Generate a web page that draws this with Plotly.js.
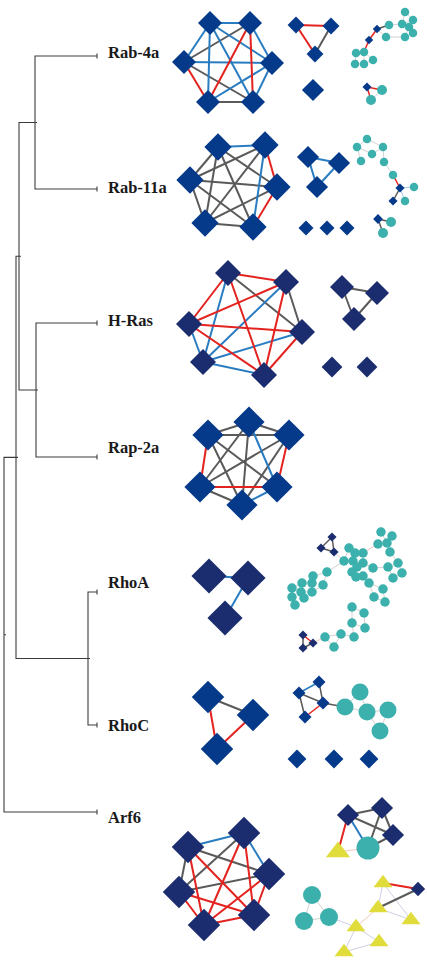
<!DOCTYPE html>
<html><head><meta charset="utf-8">
<script src="https://cdn.plot.ly/plotly-3.0.1.min.js"></script>
<style>html,body{margin:0;padding:0;background:#fff}#chart{width:427px;height:962px}</style>
</head><body><div id="chart"></div>
<script>
// ---------- Dendrogram data ----------
const leafNames = ['Rab-4a','Rab-11a','H-Ras','Rap-2a','RhoA','RhoC','Arf6'];
const leafY = [56,189,323,457,592,725,812];
const labelY = [52,187,320,447,582,725,817];
const mergePairs = [[0,1],[2,3],[7,8],[4,5],[9,10],[11,6]];
const mergeHeights = [35,36,19,88,16,4];

// ---------- Network data (node positions, node kinds, edges) ----------
const rab4aMainX = [210,250,184,272,208,253];
const rab4aMainY = [23,23,62,63,102,102];
const rab4aMainEdges = [[0,1,'b'],[0,2,'b'],[0,4,'b'],[0,5,'b'],[0,3,'b'],[1,2,'g'],[1,4,'r'],[1,5,'r'],[1,3,'b'],[2,3,'b'],[2,4,'r'],[2,5,'g'],[3,4,'b'],[3,5,'b'],[4,5,'g']];

const rab4aTriX = [296,331,315];
const rab4aTriY = [25,26,54];
const rab4aTriEdges = [[0,1,'r'],[0,2,'r'],[1,2,'g']];
const rab4aSingleX = [313];
const rab4aSingleY = [90];

const rab4aTealX = [377,369,405,413,402,409,413,405,389,386,356,364,373,355,364];
const rab4aTealY = [29,40,12,20,24,27,33,37,25,37,53,52,60,64,64];
const rab4aTealKind = 'ddccccccccccccc';
const rab4aTealEdges = [[0,1,'rt'],[1,11,'rt'],[0,8,'gt'],[0,9,'l'],[8,4,'l'],[4,2,'l'],[4,3,'l'],[4,5,'l'],[5,6,'l'],[5,7,'l'],[2,3,'l'],[10,11,'l'],[11,14,'l'],[10,13,'l'],[13,14,'l'],[11,12,'l'],[14,12,'l'],[9,7,'l']];
const rab4aTeal2X = [367,382,371];
const rab4aTeal2Y = [87,90,100];
const rab4aTeal2Kind = 'dcc';
const rab4aTeal2Edges = [[0,1,'rt'],[0,2,'rt'],[1,2,'l']];

const rab11aMainX = [218,265,190,277,205,253];
const rab11aMainY = [147,145,180,187,223,227];
const rab11aMainEdges = [[0,1,'b'],[1,3,'r'],[3,5,'r'],[1,5,'b'],[0,2,'g'],[0,3,'g'],[0,4,'g'],[0,5,'g'],[1,2,'g'],[1,4,'g'],[2,3,'g'],[2,4,'g'],[2,5,'g'],[3,4,'g'],[4,5,'g']];
const rab11aTriX = [308,339,317];
const rab11aTriY = [157,163,187];
const rab11aTriEdges = [[0,1,'b'],[0,2,'b'],[1,2,'b']];
const rab11aSingleX = [306,327,347];
const rab11aSingleY = [228,228,228];
const rab11aTealX = [367,357,372,383,361,384,393,414,405,400,393];
const rab11aTealY = [139,147,154,147,161,162,175,187,201,188,201];
const rab11aTealKind = 'cccccccccdd';
const rab11aTealEdges = [[0,1,'l'],[0,3,'l'],[1,2,'l'],[1,4,'l'],[2,3,'l'],[3,5,'l'],[5,6,'l'],[6,9,'rt'],[9,7,'lb'],[9,8,'lb'],[9,10,'gt']];
const rab11aTeal2X = [378,391,383];
const rab11aTeal2Y = [219,222,233];
const rab11aTeal2Kind = 'dcc';
const rab11aTeal2Edges = [[0,1,'gt'],[0,2,'gt']];

const hrasMainX = [228,286,189,302,203,264];
const hrasMainY = [273,282,324,332,362,375];
const hrasMainEdges = [[0,1,'r'],[0,2,'r'],[0,4,'b'],[0,5,'r'],[0,3,'g'],[1,3,'g'],[1,2,'r'],[1,4,'b'],[1,5,'r'],[2,3,'r'],[2,4,'b'],[2,5,'r'],[3,4,'b'],[3,5,'r'],[4,5,'b']];
const hrasTriX = [342,377,354];
const hrasTriY = [287,293,319];
const hrasTriEdges = [[0,1,'g'],[0,2,'g'],[1,2,'g']];
const hrasSingleX = [332,367];
const hrasSingleY = [367,367];

const rap2aMainX = [249,208,289,200,277,242];
const rap2aMainY = [422,435,435,487,487,505];
const rap2aMainEdges = [[1,3,'r'],[3,4,'r'],[2,4,'r'],[0,4,'b'],[5,4,'b'],[0,1,'g'],[0,2,'g'],[0,3,'g'],[0,5,'g'],[1,2,'g'],[1,4,'g'],[1,5,'g'],[2,3,'g'],[2,5,'g'],[3,5,'g']];

const rhoaTriX = [209,248,225];
const rhoaTriY = [576,578,618];
const rhoaTriEdges = [[0,1,'b'],[1,2,'b']];
const rhoaCloudX = [381,392,378,387,390,398,388,402,393,349,355,363,344,353,363,357,352,373,356,363,369,383,374,385,327,313,323,302,312,292,301,312,292,304,295,352,364,352,365,341,354,325,334,332,321,334,303,313,303];
const rhoaCloudY = [532,536,544,543,552,563,567,573,578,548,553,553,561,561,563,567,572,568,577,576,583,589,597,602,572,576,585,583,583,588,592,592,597,598,605,607,613,623,628,634,637,637,647,537,548,552,635,643,648];
const rhoaCloudKind = 'ccccccccccccccccccccccccccccccccccccccccccc' + 'dddddd';
const rhoaCloudEdges = [[0,3,'l'],[1,3,'l'],[2,3,'l'],[3,4,'l'],[4,5,'l'],[5,6,'l'],[5,7,'l'],[6,8,'l'],[7,8,'l'],[2,11,'lr'],[9,10,'l'],[10,11,'l'],[9,12,'l'],[10,13,'l'],[11,14,'l'],[12,13,'l'],[13,15,'l'],[14,15,'l'],[15,16,'l'],[14,17,'l'],[16,18,'l'],[18,19,'l'],[19,20,'l'],[17,6,'l'],[20,21,'l'],[20,22,'l'],[22,23,'l'],[21,23,'l'],[12,24,'l'],[24,25,'l'],[24,26,'l'],[25,28,'l'],[27,28,'l'],[27,29,'l'],[28,31,'l'],[29,30,'l'],[30,31,'l'],[29,32,'l'],[32,34,'l'],[30,33,'l'],[26,31,'l'],[35,36,'l'],[35,37,'l'],[36,38,'l'],[37,38,'l'],[37,40,'l'],[39,40,'l'],[39,41,'l'],[41,42,'l'],[39,42,'l'],[43,44,'gt'],[43,45,'gt'],[44,45,'gt'],[46,47,'rt'],[47,48,'gt'],[46,48,'gt'],[47,41,'lr'],[45,12,'l']];

const rhocTriX = [208,253,217];
const rhocTriY = [697,715,749];
const rhocTriEdges = [[0,1,'g'],[0,2,'r'],[1,2,'r']];
const rhocSmallX = [319,299,323,305,345,360,367,388,380];
const rhocSmallY = [682,693,703,717,707,692,712,710,731];
const rhocSmallKind = 'ddddccccc';
const rhocSmallEdges = [[0,1,'bt'],[0,2,'gt'],[1,2,'gt'],[1,3,'gt'],[2,3,'rt'],[2,4,'gt'],[4,5,'l'],[5,6,'l'],[4,6,'l'],[6,7,'l'],[7,8,'l'],[6,8,'l']];
const rhocSingleX = [297,334,369];
const rhocSingleY = [759,759,759];

const arf6MainX = [188,244,179,269,204,254];
const arf6MainY = [847,833,892,874,925,915];
const arf6MainEdges = [[0,1,'b'],[1,3,'b'],[0,2,'g'],[0,3,'g'],[1,2,'g'],[2,3,'g'],[0,4,'r'],[0,5,'r'],[1,4,'r'],[1,5,'r'],[2,4,'r'],[2,5,'r'],[3,4,'r'],[3,5,'r'],[4,5,'r']];
const arf6TopX = [348,382,393,338,368];
const arf6TopY = [815,808,835,852,848];
const arf6TopKind = 'dddtc';
const arf6TopEdges = [[0,1,'g'],[0,2,'g'],[1,2,'g'],[1,4,'g'],[2,4,'g'],[0,3,'r'],[0,4,'b'],[3,4,'lr']];
const arf6BottomX = [312,304,329,383,378,356,411,379,344,418];
const arf6BottomY = [895,921,917,883,908,927,920,942,952,889];
const arf6BottomKind = 'cccttttttd';
const arf6BottomEdges = [[0,1,'l'],[0,2,'l'],[1,2,'l'],[2,5,'lv'],[3,9,'r'],[4,9,'g'],[5,4,'lr'],[5,7,'lv'],[5,8,'lv'],[7,8,'lv'],[4,6,'lv'],[3,6,'lv'],[3,4,'lv']];

// ---------- Styles ----------
const BLUE_D = '#053a8b', NAVY_D = '#1b2d6e', TEAL = '#3bb0ac', YELLOW = '#e0dc3c';
const edgeStyle = {
  r:{c:'#e3231f',w:2}, b:{c:'#2a7cc1',w:2}, g:{c:'#5a5a5a',w:2},
  rt:{c:'#e3231f',w:1.5}, bt:{c:'#2a7cc1',w:1.5}, gt:{c:'#5a5a5a',w:1.5},
  l:{c:'#d2d2d2',w:1}, lr:{c:'#f3c6bc',w:1}, lv:{c:'#cfd0e6',w:1}, lb:{c:'#a9c9e6',w:1}
};
const symbolOf = {d:'diamond', c:'circle', t:'triangle-up'};

const networks = [
  {x:rab4aMainX, y:rab4aMainY, e:rab4aMainEdges, size:{d:18.5}, color:{d:BLUE_D}},
  {x:rab4aTriX, y:rab4aTriY, e:rab4aTriEdges, size:{d:13}, color:{d:BLUE_D}},
  {x:rab4aSingleX, y:rab4aSingleY, e:[], size:{d:17}, color:{d:BLUE_D}},
  {x:rab4aTealX, y:rab4aTealY, k:rab4aTealKind, e:rab4aTealEdges, size:{d:6.5,c:8.5}, color:{d:BLUE_D,c:TEAL}},
  {x:rab4aTeal2X, y:rab4aTeal2Y, k:rab4aTeal2Kind, e:rab4aTeal2Edges, size:{d:7,c:10}, color:{d:BLUE_D,c:TEAL}},
  {x:rab11aMainX, y:rab11aMainY, e:rab11aMainEdges, size:{d:21}, color:{d:BLUE_D}},
  {x:rab11aTriX, y:rab11aTriY, e:rab11aTriEdges, size:{d:17}, color:{d:BLUE_D}},
  {x:rab11aSingleX, y:rab11aSingleY, e:[], size:{d:11.5}, color:{d:BLUE_D}},
  {x:rab11aTealX, y:rab11aTealY, k:rab11aTealKind, e:rab11aTealEdges, size:{d:7,c:8.5}, color:{d:BLUE_D,c:TEAL}},
  {x:rab11aTeal2X, y:rab11aTeal2Y, k:rab11aTeal2Kind, e:rab11aTeal2Edges, size:{d:7.5,c:10}, color:{d:BLUE_D,c:TEAL}},
  {x:hrasMainX, y:hrasMainY, e:hrasMainEdges, size:{d:20}, color:{d:NAVY_D}},
  {x:hrasTriX, y:hrasTriY, e:hrasTriEdges, size:{d:18.5}, color:{d:NAVY_D}},
  {x:hrasSingleX, y:hrasSingleY, e:[], size:{d:16}, color:{d:NAVY_D}},
  {x:rap2aMainX, y:rap2aMainY, e:rap2aMainEdges, size:{d:24}, color:{d:BLUE_D}},
  {x:rhoaTriX, y:rhoaTriY, e:rhoaTriEdges, size:{d:27}, color:{d:NAVY_D}},
  {x:rhoaCloudX, y:rhoaCloudY, k:rhoaCloudKind, e:rhoaCloudEdges, size:{d:7,c:9.5}, color:{d:NAVY_D,c:TEAL}},
  {x:rhocTriX, y:rhocTriY, e:rhocTriEdges, size:{d:25}, color:{d:BLUE_D}},
  {x:rhocSmallX, y:rhocSmallY, k:rhocSmallKind, e:rhocSmallEdges, size:{d:10,c:17}, color:{d:BLUE_D,c:TEAL}},
  {x:rhocSingleX, y:rhocSingleY, e:[], size:{d:14.5}, color:{d:BLUE_D}},
  {x:arf6MainX, y:arf6MainY, e:arf6MainEdges, size:{d:25}, color:{d:NAVY_D}},
  {x:arf6TopX, y:arf6TopY, k:arf6TopKind, e:arf6TopEdges, size:{d:17,t:21,c:23}, color:{d:NAVY_D,t:YELLOW,c:TEAL}},
  {x:arf6BottomX, y:arf6BottomY, k:arf6BottomKind, e:arf6BottomEdges, size:{d:11,t:16.5,c:18}, color:{d:NAVY_D,t:YELLOW,c:TEAL}}
];

// ---------- Build traces ----------
const traces = [];
const LEAF_X = 97;

// dendrogram
const dX = [], dY = [];
const nX = [], nY = [];
leafY.forEach(y => { nX.push(LEAF_X); nY.push(y); });
mergePairs.forEach((p, k) => {
  const h = mergeHeights[k], a = p[0], b = p[1];
  dX.push(nX[a], h, h, nX[b], null);
  dY.push(nY[a], nY[a], nY[b], nY[b], null);
  dX.push(h, h + 2, null); dY.push((nY[a] + nY[b]) / 2, (nY[a] + nY[b]) / 2, null);
  nX.push(h); nY.push((nY[a] + nY[b]) / 2);
});
leafY.forEach(y => { dX.push(LEAF_X, LEAF_X, null); dY.push(y - 2.5, y + 2.5, null); });
traces.push({type:'scatter', mode:'lines', x:dX, y:dY, line:{color:'#3c3c3c', width:1.1}, hoverinfo:'skip'});

// edges grouped by style
const groups = {};
networks.forEach(n => {
  n.e.forEach(([i, j, t]) => {
    if (!groups[t]) groups[t] = {x:[], y:[]};
    groups[t].x.push(n.x[i], n.x[j], null);
    groups[t].y.push(n.y[i], n.y[j], null);
  });
});
['l','lr','lv','lb','g','gt','b','bt','r','rt'].forEach(t => {
  if (!groups[t]) return;
  traces.push({type:'scatter', mode:'lines', x:groups[t].x, y:groups[t].y,
    line:{color:edgeStyle[t].c, width:edgeStyle[t].w}, hoverinfo:'skip'});
});

// nodes
networks.forEach(n => {
  const kinds = n.k ? n.k.split('') : n.x.map(() => 'd');
  traces.push({type:'scatter', mode:'markers', x:n.x, y:n.y, hoverinfo:'skip',
    marker:{symbol:kinds.map(k => symbolOf[k]), size:kinds.map(k => n.size[k]),
      color:kinds.map(k => n.color[k]), opacity:1, line:{width:0}}});
});

const annotations = leafNames.map((name, i) => ({
  x:106, y:labelY[i], xref:'x', yref:'y', text:name, showarrow:false,
  xanchor:'left', yanchor:'middle',
  font:{family:'Liberation Serif, Times New Roman, serif', size:16.5, color:'#1a1a1a', weight:'bold'}
}));

const layout = {
  width:427, height:962, margin:{l:0, r:0, t:0, b:0},
  paper_bgcolor:'#ffffff', plot_bgcolor:'#ffffff', showlegend:false,
  xaxis:{range:[0,427], visible:false, fixedrange:true},
  yaxis:{range:[962,0], visible:false, fixedrange:true},
  annotations:annotations
};
Plotly.newPlot('chart', traces, layout, {displayModeBar:false, staticPlot:true});
</script></body></html>
